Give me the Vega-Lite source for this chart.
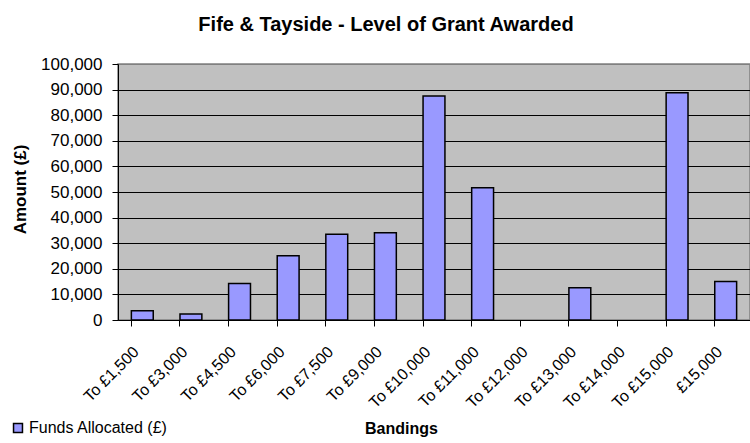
{
  "$schema": "https://vega.github.io/schema/vega-lite/v6.json",
  "autosize": "none",
  "width": 632,
  "height": 256,
  "padding": {"left": 118, "top": 64, "right": 0, "bottom": 123},
  "background": "white",
  "config": {
    "font": "Liberation Sans",
    "view": {"fill": "#C0C0C0", "stroke": "#808080", "strokeWidth": 1.5}
  },
  "title": {
    "text": "Fife & Tayside - Level of Grant Awarded",
    "fontSize": 20,
    "fontWeight": "bold",
    "color": "black",
    "anchor": "middle",
    "dx": -48,
    "offset": 20
  },
  "data": {
    "values": [
      {"Banding": "To £1,500", "Funds": 3600, "Series": "Funds Allocated (£)"},
      {"Banding": "To £3,000", "Funds": 2300, "Series": "Funds Allocated (£)"},
      {"Banding": "To £4,500", "Funds": 14300, "Series": "Funds Allocated (£)"},
      {"Banding": "To £6,000", "Funds": 25100, "Series": "Funds Allocated (£)"},
      {"Banding": "To £7,500", "Funds": 33500, "Series": "Funds Allocated (£)"},
      {"Banding": "To £9,000", "Funds": 34100, "Series": "Funds Allocated (£)"},
      {"Banding": "To £10,000", "Funds": 87500, "Series": "Funds Allocated (£)"},
      {"Banding": "To £11,000", "Funds": 51700, "Series": "Funds Allocated (£)"},
      {"Banding": "To £12,000", "Funds": 0, "Series": "Funds Allocated (£)"},
      {"Banding": "To £13,000", "Funds": 12600, "Series": "Funds Allocated (£)"},
      {"Banding": "To £14,000", "Funds": 0, "Series": "Funds Allocated (£)"},
      {"Banding": "To £15,000", "Funds": 88800, "Series": "Funds Allocated (£)"},
      {"Banding": "£15,000", "Funds": 15000, "Series": "Funds Allocated (£)"}
    ]
  },
  "mark": {"type": "bar", "stroke": "black", "strokeWidth": 1.5},
  "encoding": {
    "x": {
      "field": "Banding",
      "type": "nominal",
      "sort": null,
      "scale": {"paddingInner": 0.55, "paddingOuter": 0.275},
      "axis": {
        "title": "Bandings",
        "titleFontSize": 16,
        "titleFontWeight": "bold",
        "titleColor": "black",
        "titleX": 283,
        "titleY": 100,
        "titleBaseline": "top",
        "titleAnchor": "start",
        "titleAlign": "center",
        "labelAngle": -45,
        "labelAlign": "right",
        "labelBaseline": "middle",
        "labelFontSize": 16,
        "labelColor": "black",
        "labelPadding": 23,
        "labelOffset": -6,
        "bandPosition": 0,
        "domainColor": "black",
        "domainWidth": 1,
        "tickColor": "black",
        "tickSize": 6,
        "grid": false
      }
    },
    "y": {
      "field": "Funds",
      "type": "quantitative",
      "scale": {"domain": [0, 100000]},
      "axis": {
        "title": "Amount (£)",
        "titleFontSize": 17,
        "titleFontWeight": "bold",
        "titleColor": "black",
        "titleX": -98,
        "titleY": 125,
        "titleAngle": -90,
        "titleAlign": "center",
        "titleBaseline": "middle",
        "values": [0, 10000, 20000, 30000, 40000, 50000, 60000, 70000, 80000, 90000, 100000],
        "format": ",d",
        "labelFontSize": 17,
        "labelColor": "black",
        "labelPadding": 10,
        "domainColor": "black",
        "tickColor": "black",
        "tickSize": 6,
        "grid": true,
        "gridColor": {"condition": {"test": "datum.value === 100000", "value": "#808080"}, "value": "black"},
        "gridOpacity": 1,
        "gridWidth": 1
      }
    },
    "strokeOpacity": {
      "condition": {"test": "datum.Funds === 0", "value": 0},
      "value": 1
    },
    "color": {
      "field": "Series",
      "type": "nominal",
      "scale": {"range": ["#9999FF"]},
      "legend": {
        "title": null,
        "orient": "none",
        "legendX": -108,
        "legendY": 356,
        "symbolType": "square",
        "symbolSize": 80,
        "symbolStrokeColor": "black",
        "symbolStrokeWidth": 1.5,
        "symbolFillColor": "#9999FF",
        "labelFontSize": 16,
        "labelColor": "black",
        "labelOffset": 3
      }
    }
  }
}
